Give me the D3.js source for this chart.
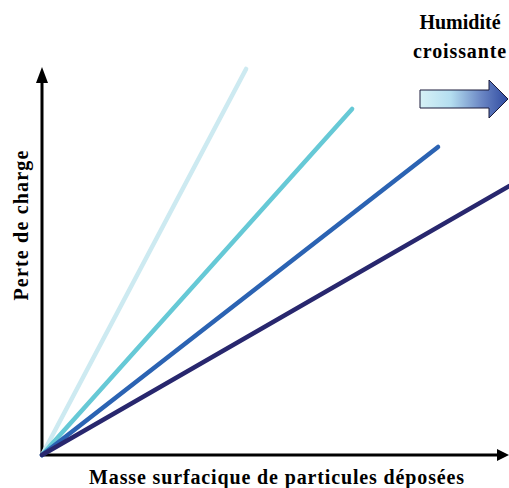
<!DOCTYPE html>
<html><head><meta charset="utf-8">
<script src="https://cdn.jsdelivr.net/npm/d3@7"></script>
<style>body{margin:0;background:#fff}svg{display:block}</style>
</head><body>
<script>
const seriesNames = ["h1","h2","h3","h4"];
const seriesColors = ["#cdeaf1","#66c9d6","#2b63b3","#28276e"];
const endX = [43.7, 66.4, 84.8, 100];
const endY = [99.5, 89.2, 79.4, 69.3];
const xLabel = "Masse surfacique de particules déposées";
const yLabel = "Perte de charge";
const arrowText = ["Humidité","croissante"];

const W=509,H=488;
const svg=d3.select("body").append("svg").attr("width",W).attr("height",H);
const x=d3.scaleLinear().domain([0,100]).range([42,509]);
const y=d3.scaleLinear().domain([0,100]).range([455,67]);

const defs=svg.append("defs");
const g=defs.append("linearGradient").attr("id","grad").attr("x1","0").attr("x2","1").attr("y1","0").attr("y2","0");
g.append("stop").attr("offset","0%").attr("stop-color","#d6f1f6");
g.append("stop").attr("offset","35%").attr("stop-color","#b4def0");
g.append("stop").attr("offset","70%").attr("stop-color","#6a86c4");
g.append("stop").attr("offset","100%").attr("stop-color","#2f4aa0");

// axes
svg.append("line").attr("x1",x(0)).attr("y1",y(0)).attr("x2",x(0)).attr("y2",y(0)-375).attr("stroke","#000").attr("stroke-width",3);
svg.append("path").attr("d",`M${x(0)},${y(0)-388} L${x(0)-6},${y(0)-372} L${x(0)+6},${y(0)-372}Z`).attr("fill","#000");
svg.append("line").attr("x1",x(0)-1.5).attr("y1",y(0)).attr("x2",498).attr("y2",y(0)).attr("stroke","#000").attr("stroke-width",3);
svg.append("path").attr("d",`M509,${y(0)} L497,${y(0)-6} L497,${y(0)+6}Z`).attr("fill","#000");

// lines
const data=seriesNames.map((n,i)=>({n,c:seriesColors[i],ex:endX[i],ey:endY[i]}));
svg.selectAll("line.s").data(data).join("line").attr("class","s")
 .attr("x1",x(0)).attr("y1",y(0)).attr("x2",d=>x(d.ex)).attr("y2",d=>y(d.ey))
 .attr("stroke",d=>d.c).attr("stroke-width",4.5).attr("stroke-linecap","round");

// big arrow
svg.append("path").attr("d","M420,90 L489,90 L489,80 L508,99 L489,118 L489,108 L420,108 Z")
 .attr("fill","url(#grad)").attr("stroke","#1a1a3a").attr("stroke-width",1);

function mk(sel,size){return sel.style("font-family","'Liberation Serif'").style("font-weight","bold").style("font-size",size+"px").attr("text-anchor","middle");}
function fit(t,w){const L=t.node().getComputedTextLength();const k=t.text().length;if(k>1)t.attr("letter-spacing",Math.max(0,(w-L)/(k-1)));}
const t1=mk(svg.append("text").attr("x",460).attr("y",29).text(arrowText[0]),20);
const t2=mk(svg.append("text").attr("x",460).attr("y",58).text(arrowText[1]),20);
const tx=mk(svg.append("text").attr("x",277).attr("y",484).text(xLabel),20);
const ty=mk(svg.append("text").attr("transform","translate(28,225) rotate(-90)").text(yLabel),20);
fit(t1,80);fit(t2,93);fit(tx,375);fit(ty,150);
</script>
</body></html>
